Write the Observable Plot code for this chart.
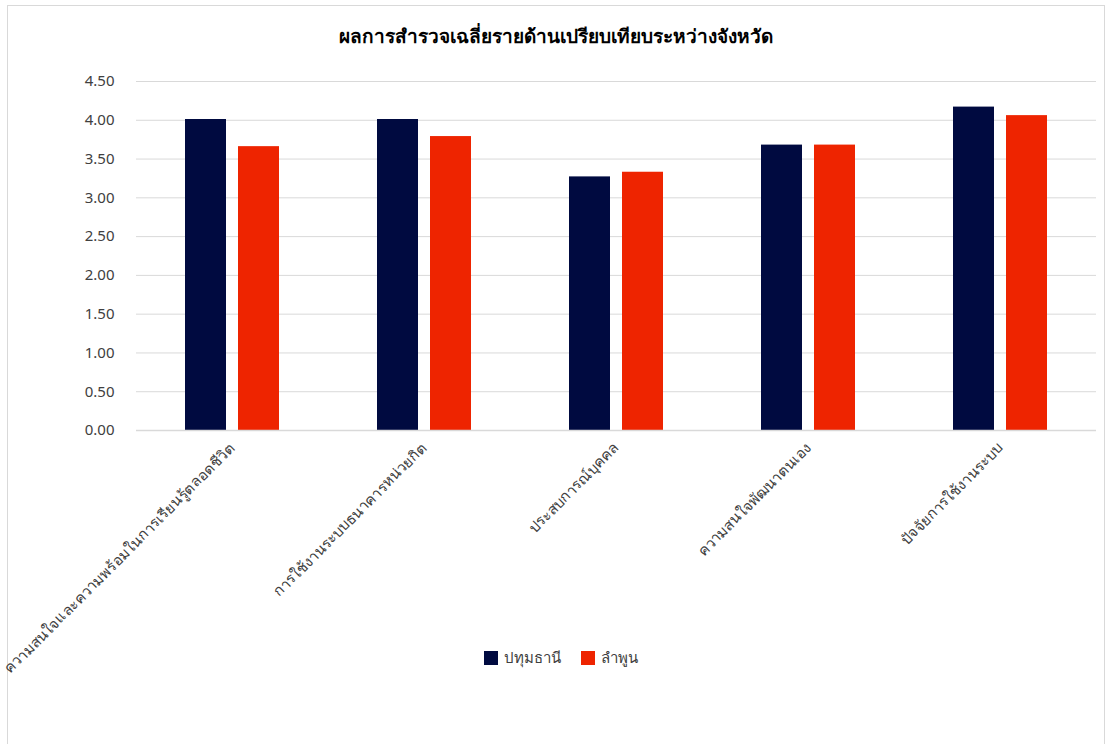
<!DOCTYPE html>
<html>
<head>
<meta charset="utf-8">
<script src="https://cdn.jsdelivr.net/npm/d3@7"></script>
<script src="https://cdn.jsdelivr.net/npm/@observablehq/plot@0.6"></script>
<style>
  html, body { margin: 0; padding: 0; background: #fff; }
  body { width: 1109px; height: 744px; position: relative; overflow: hidden;
         font-family: "Noto Sans", "DejaVu Sans", sans-serif; }
  #frame { position: absolute; left: 7px; top: 5px; width: 1098px; height: 745px;
           border: 1px solid #d9d9d9; box-sizing: border-box; }
  #title { position: absolute; left: 7px; width: 1098px; top: 21px; text-align: center;
           font-size: 19px; font-weight: bold; color: #000; }
  #chart { position: absolute; left: 0; top: 0; }
  #legend { position: absolute; top: 646px; left: 6px; width: 1109px; display: flex; justify-content: center;
            gap: 0; font-size: 15px; color: #404040; }
  .item { display: flex; align-items: center; margin: 0 10px; }
  .sw { width: 14px; height: 14px; margin-right: 6px; }
</style>
</head>
<body>
<div id="frame"></div>
<div id="chart"></div>
<div id="title">ผลการสำรวจเฉลี่ยรายด้านเปรียบเทียบระหว่างจังหวัด</div>
<div id="legend"></div>
<script>
const categories = [
  "ความสนใจและความพร้อมในการเรียนรู้ตลอดชีวิต",
  "การใช้งานระบบธนาคารหน่วยกิต",
  "ประสบการณ์บุคคล",
  "ความสนใจพัฒนาตนเอง",
  "ปัจจัยการใช้งานระบบ"
];
const series = ["ปทุมธานี", "ลำพูน"];
const pathumValues = [4.01, 4.01, 3.27, 3.68, 4.17];
const lamphunValues = [3.66, 3.79, 3.33, 3.68, 4.06];
const colors = ["#000a40", "#ee2400"];
const yTicks = [0, 0.5, 1, 1.5, 2, 2.5, 3, 3.5, 4, 4.5];

const data = [];
categories.forEach((c, i) => {
  data.push({category: c, series: series[0], value: pathumValues[i]});
  data.push({category: c, series: series[1], value: lamphunValues[i]});
});

const plot = Plot.plot({
  width: 1109,
  height: 744,
  marginTop: 81,
  marginBottom: 314,
  marginLeft: 136,
  marginRight: 13,
  style: {fontFamily: "'Noto Sans', 'DejaVu Sans', sans-serif", fontSize: "15px", color: "#404040", background: "transparent"},
  fx: {domain: categories, padding: 0, label: null, axis: null},
  x: {domain: series, paddingInner: 0.222, paddingOuter: 0.889, axis: null},
  y: {domain: [0, 4.5], label: null, axis: null},
  color: {domain: series, range: colors},
  marks: [
    Plot.gridY(yTicks, {stroke: "#d9d9d9", strokeOpacity: 1, strokeWidth: 1}),
    Plot.axisY(yTicks, {tickFormat: d3.format(".2f"), tickSize: 0, tickPadding: 22, fontSize: 15, label: null}),
    Plot.axisFx({anchor: "bottom", tickRotate: -45, tickSize: 0, tickPadding: 15, fontSize: 14.8, label: null}),
    Plot.barY(data, {fx: "category", x: "series", y: "value", fill: "series"}),
    Plot.ruleY([0], {stroke: "#d9d9d9", strokeWidth: 1.5})
  ]
});
document.getElementById("chart").appendChild(plot);

const legend = document.getElementById("legend");
series.forEach((s, i) => {
  const it = document.createElement("div");
  it.className = "item";
  const sw = document.createElement("div");
  sw.className = "sw";
  sw.style.background = colors[i];
  const t = document.createElement("span");
  t.textContent = s;
  it.appendChild(sw);
  it.appendChild(t);
  legend.appendChild(it);
});
</script>
</body>
</html>
